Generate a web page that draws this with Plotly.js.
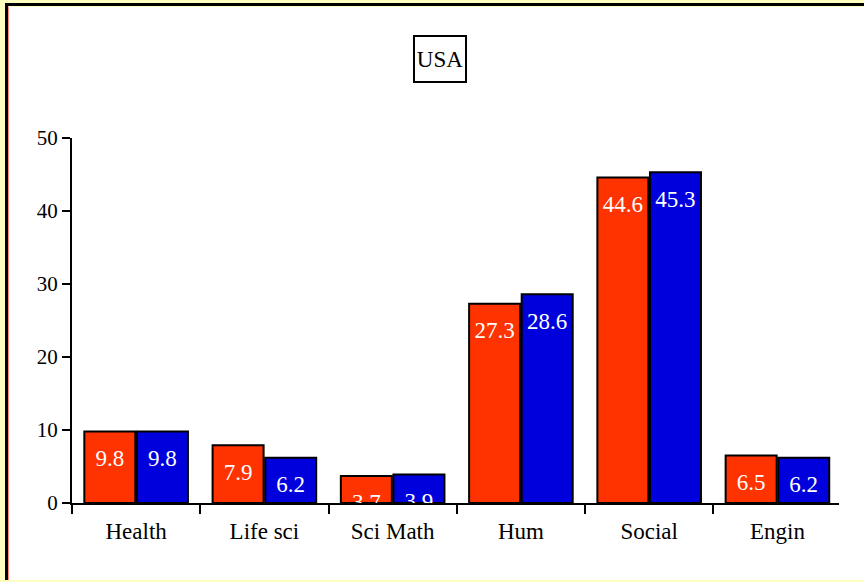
<!DOCTYPE html>
<html>
<head>
<meta charset="utf-8">
<script src="https://cdn.plot.ly/plotly-3.0.1.min.js"></script>
<style>
  html, body { margin: 0; padding: 0; background: #FFFFC0; width: 864px; height: 582px; overflow: hidden; }
  #frame { position: absolute; left: 5px; top: 3px; width: 859px; height: 577px;
           border-left: 3px solid #000; border-top: 3px solid #000; box-sizing: border-box; background: #fff; }
  #inner { position: absolute; left: 0; top: 0; width: 856px; height: 574px;
           border-left: 1px solid #FF8C78; border-top: 1px solid #FFFFC0; box-sizing: border-box; }
  #chart { position: absolute; left: 0; top: 0; width: 856px; height: 574px; }
</style>
</head>
<body>
<div id="frame"><div id="inner"></div><div id="chart"></div></div>
<script>
const categories = ["Health", "Life sci", "Sci Math", "Hum", "Social", "Engin"];
const seriesRed = [9.8, 7.9, 3.7, 27.3, 44.6, 6.5];
const seriesBlue = [9.8, 6.2, 3.9, 28.6, 45.3, 6.2];
const yTicks = [0, 10, 20, 30, 40, 50];
const chartTitle = "USA";

const serif = "Liberation Serif, Times New Roman, serif";
const barGap = 0.18;
const xRange = [-0.5, 5.48];
const idx = categories.map((_, i) => i);
const halfShift = (1 - barGap) / 4;

const labelTrace = (xs, ys) => ({
  type: "scatter", mode: "markers+text", xaxis: "x2", x: xs, y: ys,
  text: ys.map(v => v.toFixed(1)), textposition: "bottom center",
  textfont: { family: serif, size: 23, color: "#fff" },
  marker: { size: 26, color: "rgba(0,0,0,0)" }, cliponaxis: true, hoverinfo: "skip"
});

const traces = [
  { type: "bar", x: categories, y: seriesRed, name: "A",
    marker: { color: "#FF3300", line: { color: "#000", width: 2 } }, hoverinfo: "skip" },
  { type: "bar", x: categories, y: seriesBlue, name: "B",
    marker: { color: "#0000DD", line: { color: "#000", width: 2 } }, hoverinfo: "skip" },
  labelTrace(idx.map(i => i - halfShift), seriesRed),
  labelTrace(idx.map(i => i + halfShift), seriesBlue)
];

const layout = {
  width: 856, height: 574,
  margin: { l: 64, r: 25, t: 132, b: 77 },
  paper_bgcolor: "rgba(0,0,0,0)", plot_bgcolor: "rgba(0,0,0,0)",
  showlegend: false,
  barmode: "group", bargap: barGap, bargroupgap: 0.03,
  font: { family: serif, size: 20, color: "#000" },
  xaxis: {
    type: "category", range: xRange, showline: true, linecolor: "#000", linewidth: 2,
    ticks: "outside", tickson: "boundaries", ticklen: 9, tickwidth: 2, tickcolor: "#000",
    ticklabelstandoff: 6,
    showgrid: false, zeroline: false, tickfont: { family: serif, size: 23 }
  },
  xaxis2: { overlaying: "x", range: xRange, visible: false, showgrid: false, zeroline: false },
  yaxis: {
    range: [0, 50], tickvals: yTicks, showline: true, linecolor: "#000", linewidth: 2,
    ticks: "outside", ticklen: 8, tickwidth: 2, tickcolor: "#000",
    showgrid: false, zeroline: false, tickfont: { family: serif, size: 21 }
  },
  annotations: [{
    text: chartTitle, xref: "paper", yref: "paper", x: 0.48, y: 1.216,
    xanchor: "center", yanchor: "middle", showarrow: false,
    font: { family: serif, size: 23, color: "#000" },
    bordercolor: "#000", borderwidth: 2, borderpad: 0, width: 50, height: 44, bgcolor: "#fff"
  }]
};

Plotly.newPlot("chart", traces, layout, { displayModeBar: false, staticPlot: true });
</script>
</body>
</html>
